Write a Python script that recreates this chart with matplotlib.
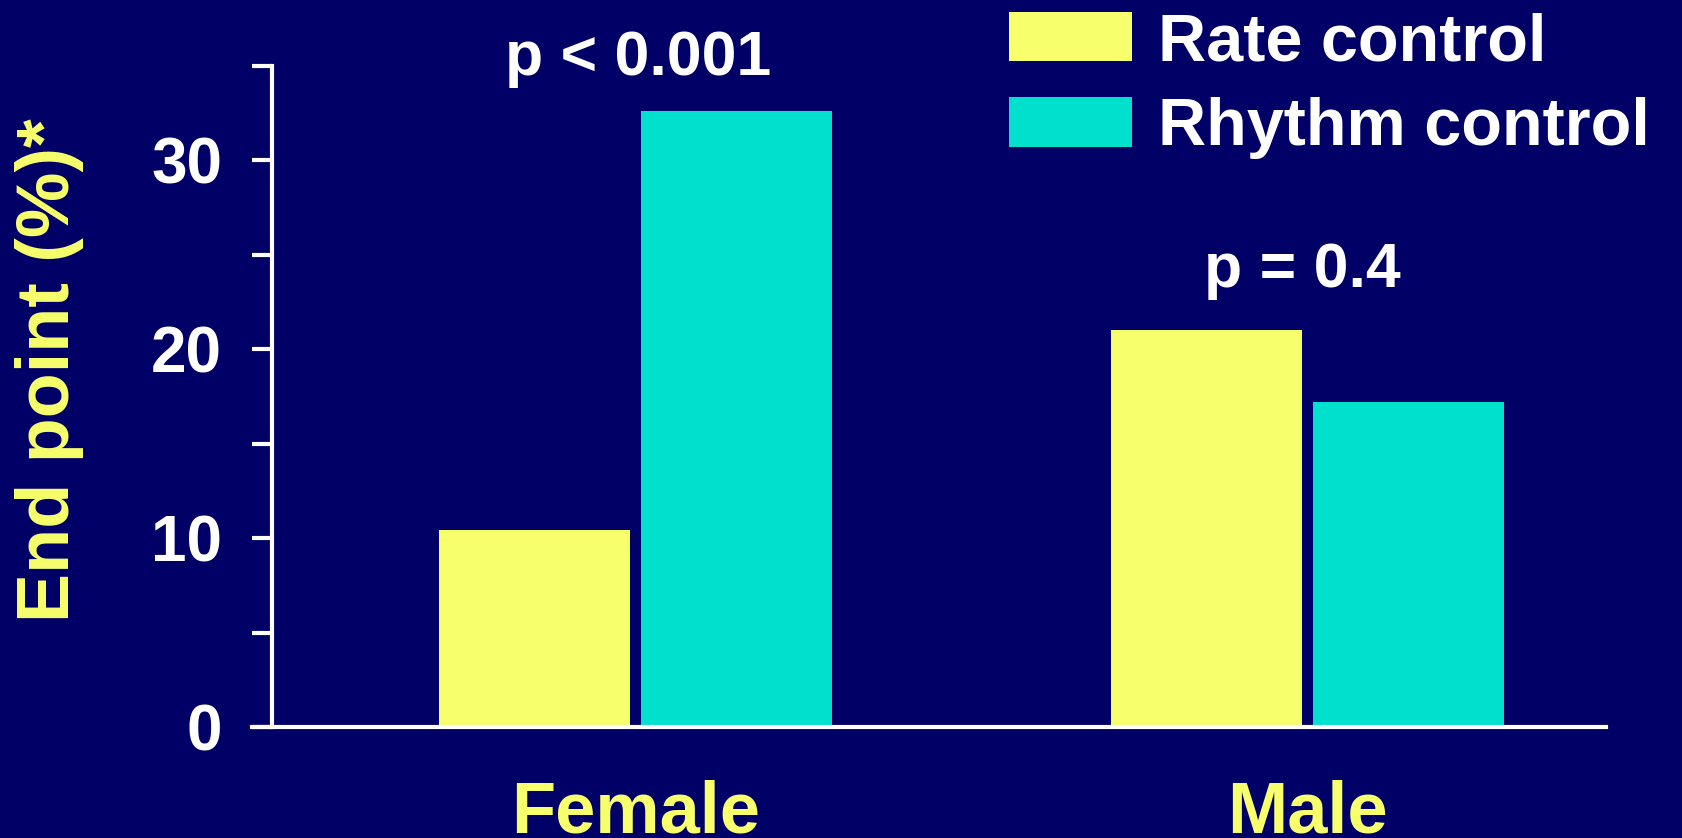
import matplotlib
matplotlib.use('Agg')
import matplotlib.pyplot as plt
import numpy as np

plt.rcParams['font.family'] = ['Liberation Sans', 'DejaVu Sans']
plt.rcParams['font.weight'] = 'bold'

# end point rates (%) by sex and treatment arm
groups = ['Female', 'Male']
rate_control = [10.45, 21.0]
rhythm_control = [32.6, 17.2]
p_labels = ['p < 0.001', 'p = 0.4']
p_x = [0.004, -0.007]
p_heights = [34.5, 23.3]
yticks = [0, 5, 10, 15, 20, 25, 30, 35]
ytick_labels = ['0', '', '10', '', '20', '', '30', '']

bg = '#000066'
yellow = '#F8FF6C'
cyan = '#00E0CC'

fig = plt.figure(figsize=(16.82, 8.38), dpi=100, facecolor=bg)
# axes box in pixels: x 252..1606, y 66..727
ax = fig.add_axes([252 / 1682, 1 - 727 / 838, (1606 - 252) / 1682, (727 - 66) / 838])
ax.set_facecolor(bg)

x = np.arange(len(groups))
w = 0.284
off = 0.150
ax.bar(x - off, rate_control, w, color=yellow, label='Rate control', zorder=2)
ax.bar(x + off, rhythm_control, w, color=cyan, label='Rhythm control', zorder=2)

for xi, txt, h in zip(x + np.array(p_x), p_labels, p_heights):
    ax.text(xi, h, txt, color='white', fontsize=45, fontweight='bold',
            ha='center', va='baseline')

ax.set_xlim(-0.5707, 1.4442)
ax.set_ylim(0, 35)

for s in ['top', 'right']:
    ax.spines[s].set_visible(False)
ax.spines['left'].set_position(('axes', 20 / 1354))
for s in ['left', 'bottom']:
    ax.spines[s].set_color('white')
    ax.spines[s].set_linewidth(3.0)

ax.set_yticks(yticks)
ax.set_yticklabels(ytick_labels)
ax.tick_params(axis='y', colors='white', length=14.4, width=3.0, pad=21.6,
               labelsize=46)
ax.set_xticks(x)
ax.set_xticklabels(groups)
ax.tick_params(axis='x', length=0, pad=38, labelsize=52, labelcolor=yellow)

fig.text(50 / 1682, 1 - 370 / 838, 'End point (%)*', color=yellow,
         fontsize=53, fontweight='bold', rotation=90, ha='center', va='center')

leg = fig.legend(loc='upper left', bbox_to_anchor=(1009 / 1682, 1 - 12 / 838),
                 frameon=False, fontsize=48, labelcolor='white',
                 handlelength=1.84, handleheight=0.76, handletextpad=0.4,
                 labelspacing=0.35, borderpad=0, borderaxespad=0)

fig.savefig('out.png', dpi=100, facecolor=bg)
